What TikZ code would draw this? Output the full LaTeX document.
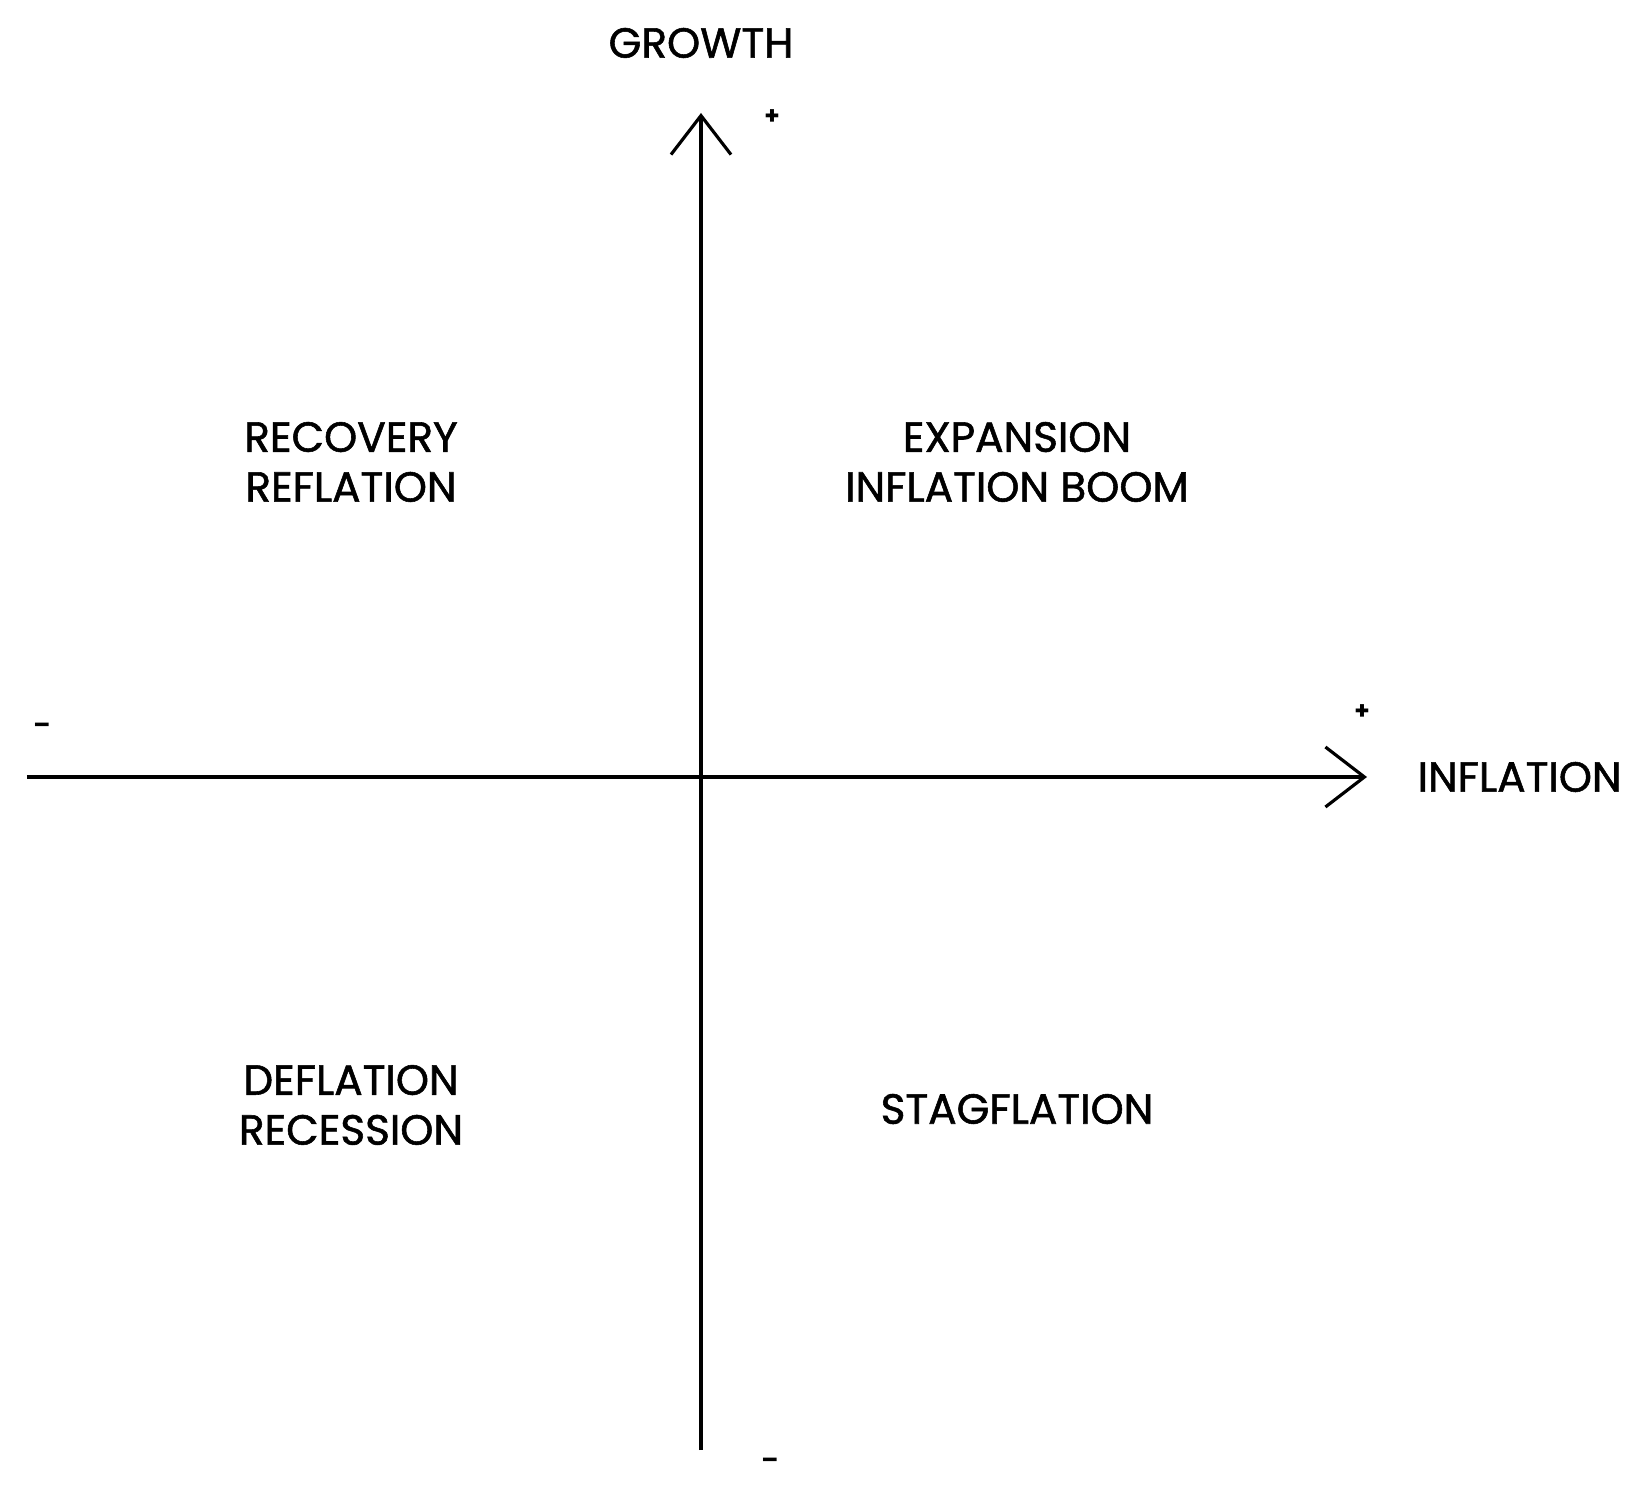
\documentclass[tikz,border=0pt]{standalone}
\usepackage{fontspec}
\setmainfont{Poppins}
\newfontfamily\labfont{Poppins}[FakeBold=1.3]
\usetikzlibrary{arrows.meta,positioning}
\tikzset{
	axis/.style={line width=0.9pt,-{Straight Barb[length=3.9mm,width=6mm,line width=0.9pt]}},
	quad/.style={font=\labfont\fontsize{12}{14.2}\selectfont,align=center,inner sep=0},
	axlab/.style={font=\labfont\fontsize{12}{14.2}\selectfont,inner sep=0},
	sgn/.style={font=\fontsize{7}{8}\selectfont\bfseries,inner sep=0}
}

\begin{document}
\begin{tikzpicture}[x=1cm,y=1cm]
	\useasboundingbox (-7.01,-7.22) rectangle (9.40,7.77);
	
	% axes
	\coordinate (o) at (0,0);
	\coordinate (xl) at (-6.74,0);
	\coordinate (xr) at (6.66,0);
	\coordinate (yb) at (0,-6.73);
	\coordinate (yt) at (0,6.64);
	\draw[axis] (xl) -- (xr);
	\draw[axis] (yb) -- (yt);
	
	\node[axlab] (grow) at (0,7.34) {GROWTH};
	\node[axlab,anchor=west] (infl) at (7.16,0) {INFLATION};
	\node[sgn] (yplus) at (0.71,6.60) {+};
	\node[sgn] (yminus) at (0.69,-6.86) {--};
	\node[sgn] (xplus) at (6.61,0.65) {+};
	\node[sgn] (xminus) at (-6.59,0.49) {--};
	
	% quadrants
	\node[quad] (rec) at (-3.50,3.15) {RECOVERY\\REFLATION};
	\node[quad] (exp) at (3.16,3.15) {EXPANSION\\INFLATION BOOM};
	\node[quad] (def) at (-3.50,-3.28) {DEFLATION\\RECESSION};
	\node[quad] (stag) at (3.16,-3.32) {STAGFLATION};
\end{tikzpicture}
\end{document}
